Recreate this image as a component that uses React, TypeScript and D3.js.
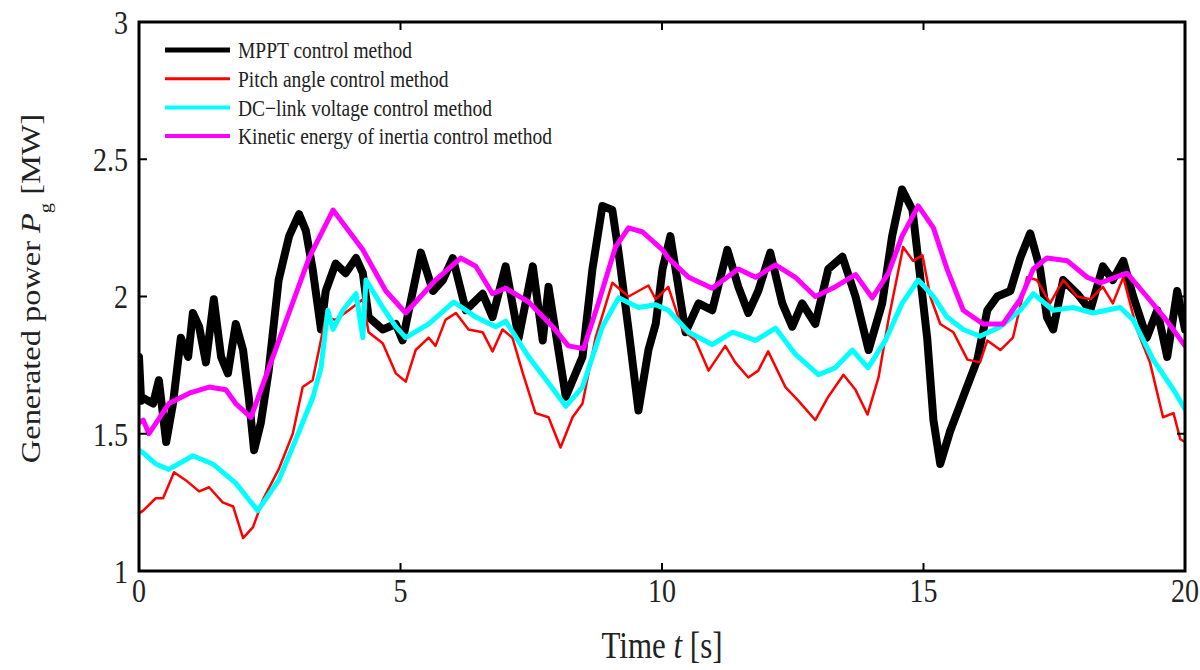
import * as d3 from 'd3';

// [time s, power MW]
const mpptData: [number, number][] = [
  [0, 1.78], [0.04, 1.62], [0.08, 1.63], [0.27, 1.61], [0.38, 1.695], [0.52, 1.47], [0.65, 1.61],
  [0.8, 1.85], [0.94, 1.78], [1.03, 1.94], [1.15, 1.89], [1.28, 1.76], [1.43, 1.99], [1.57, 1.78],
  [1.7, 1.72], [1.85, 1.9], [1.99, 1.805], [2.1, 1.63], [2.2, 1.44], [2.33, 1.54], [2.48, 1.73],
  [2.67, 2.06], [2.87, 2.22], [3.06, 2.3], [3.19, 2.24], [3.32, 2.1], [3.48, 1.88], [3.57, 2.02],
  [3.76, 2.12], [3.95, 2.085], [4.15, 2.14], [4.28, 2.085], [4.39, 1.925], [4.66, 1.88], [4.91, 1.9],
  [5.04, 1.84], [5.39, 2.16], [5.62, 2.02], [5.81, 2.06], [6.0, 2.14], [6.25, 1.95], [6.57, 2.01],
  [6.76, 1.925], [7.01, 2.11], [7.26, 1.85], [7.53, 2.11], [7.72, 1.84], [7.83, 2.035], [8.16, 1.635],
  [8.48, 1.78], [8.67, 2.1], [8.86, 2.33], [9.05, 2.315], [9.17, 2.16], [9.36, 1.88], [9.55, 1.585],
  [9.74, 1.805], [9.88, 1.9], [10.01, 2.1], [10.16, 2.22], [10.45, 1.87], [10.7, 1.975], [10.96, 1.95],
  [11.25, 2.17], [11.46, 2.035], [11.65, 1.94], [11.84, 2.02], [12.07, 2.16], [12.3, 1.975], [12.49, 1.89],
  [12.68, 1.975], [12.93, 1.9], [13.18, 2.1], [13.45, 2.145], [13.7, 2.0], [13.95, 1.805], [14.21, 1.975],
  [14.4, 2.22], [14.59, 2.39], [14.79, 2.315], [14.98, 2.0], [15.07, 1.85], [15.19, 1.55], [15.32, 1.39],
  [15.51, 1.51], [15.76, 1.635], [16.03, 1.77], [16.22, 1.95], [16.41, 2.0], [16.66, 2.02], [16.85, 2.14],
  [17.04, 2.23], [17.23, 2.1], [17.36, 1.925], [17.48, 1.88], [17.67, 2.06], [17.94, 2.01], [18.19, 1.95],
  [18.43, 2.11], [18.62, 2.06], [18.82, 2.13], [19.01, 2.0], [19.27, 1.85], [19.47, 1.95], [19.66, 1.78],
  [19.85, 2.02], [20, 1.88],
];

const pitchData: [number, number][] = [
  [0, 1.21], [0.08, 1.22], [0.32, 1.265], [0.46, 1.265], [0.67, 1.36], [0.9, 1.33], [1.15, 1.29],
  [1.34, 1.305], [1.6, 1.25], [1.8, 1.235], [1.99, 1.12], [2.18, 1.16], [2.37, 1.26], [2.67, 1.37],
  [2.94, 1.5], [3.13, 1.67], [3.32, 1.695], [3.44, 1.805], [3.57, 1.925], [3.76, 1.915], [4.01, 1.95],
  [4.28, 1.99], [4.39, 1.87], [4.66, 1.83], [4.91, 1.72], [5.1, 1.69], [5.29, 1.805], [5.54, 1.85],
  [5.67, 1.82], [5.86, 1.915], [6.06, 1.94], [6.3, 1.88], [6.57, 1.87], [6.76, 1.8], [6.95, 1.88],
  [7.14, 1.85], [7.34, 1.72], [7.58, 1.575], [7.83, 1.56], [8.06, 1.45], [8.29, 1.56], [8.48, 1.61],
  [8.73, 1.85], [9.05, 2.05], [9.36, 2.0], [9.74, 2.04], [9.88, 1.99], [10.12, 2.035], [10.39, 1.88],
  [10.64, 1.84], [10.89, 1.73], [11.21, 1.82], [11.4, 1.76], [11.65, 1.705], [11.84, 1.73], [12.03, 1.8],
  [12.36, 1.67], [12.61, 1.62], [12.93, 1.55], [13.18, 1.635], [13.47, 1.715], [13.7, 1.66], [13.93, 1.57],
  [14.14, 1.705], [14.33, 1.915], [14.61, 2.18], [14.8, 2.13], [14.98, 2.15], [15.13, 2.0], [15.32, 1.9],
  [15.57, 1.87], [15.84, 1.77], [16.08, 1.76], [16.22, 1.84], [16.47, 1.805], [16.71, 1.85], [16.98, 2.07],
  [17.17, 2.06], [17.42, 1.975], [17.67, 2.06], [17.94, 2.0], [18.19, 1.99], [18.43, 2.035], [18.62, 1.975],
  [18.82, 2.07], [19.08, 1.88], [19.33, 1.76], [19.58, 1.56], [19.78, 1.575], [19.91, 1.48], [20, 1.47],
];

const dcLinkData: [number, number][] = [
  [0, 1.44], [0.08, 1.43], [0.32, 1.39], [0.57, 1.37], [1.03, 1.42], [1.41, 1.39], [1.85, 1.32],
  [2.27, 1.22], [2.67, 1.33], [3.0, 1.48], [3.32, 1.63], [3.48, 1.74], [3.61, 1.95], [3.71, 1.88],
  [3.9, 1.95], [4.15, 2.01], [4.28, 1.85], [4.34, 2.06], [4.66, 1.96], [4.91, 1.89], [5.1, 1.85],
  [5.54, 1.9], [6.02, 1.98], [6.44, 1.925], [6.82, 1.89], [7.01, 1.91], [7.45, 1.78], [7.83, 1.685],
  [8.16, 1.6], [8.48, 1.67], [8.86, 1.89], [9.17, 1.995], [9.55, 1.96], [9.88, 1.97], [10.12, 1.95],
  [10.51, 1.87], [10.96, 1.825], [11.35, 1.87], [11.79, 1.84], [12.17, 1.885], [12.55, 1.79], [12.99, 1.715],
  [13.31, 1.74], [13.64, 1.805], [13.94, 1.74], [14.27, 1.84], [14.59, 1.975], [14.9, 2.06], [15.19, 2.0],
  [15.45, 1.925], [15.76, 1.88], [16.08, 1.855], [16.47, 1.89], [16.85, 1.95], [17.1, 2.01], [17.48, 1.95],
  [17.86, 1.96], [18.24, 1.94], [18.76, 1.96], [19.01, 1.915], [19.39, 1.77], [19.78, 1.66], [20, 1.59],
];

const kineticData: [number, number][] = [
  [0, 1.54], [0.08, 1.55], [0.19, 1.5], [0.57, 1.61], [0.99, 1.65], [1.34, 1.67], [1.66, 1.66],
  [1.85, 1.61], [2.14, 1.56], [2.81, 1.91], [3.25, 2.14], [3.71, 2.315], [4.28, 2.17], [4.72, 2.02],
  [5.1, 1.94], [5.67, 2.06], [6.15, 2.14], [6.44, 2.11], [6.76, 2.01], [7.01, 2.03], [7.45, 1.98],
  [7.91, 1.89], [8.21, 1.82], [8.5, 1.81], [8.79, 1.98], [9.11, 2.18], [9.36, 2.25], [9.63, 2.235],
  [10.01, 2.17], [10.12, 2.14], [10.51, 2.07], [10.96, 2.03], [11.46, 2.1], [11.79, 2.07], [12.17, 2.115],
  [12.55, 2.07], [12.93, 2.0], [13.31, 2.035], [13.7, 2.08], [14.02, 1.995], [14.33, 2.085], [14.59, 2.22],
  [14.9, 2.33], [15.19, 2.25], [15.45, 2.1], [15.76, 1.95], [16.14, 1.9], [16.52, 1.9], [16.85, 1.99],
  [17.1, 2.1], [17.36, 2.14], [17.75, 2.13], [18.13, 2.07], [18.38, 2.05], [18.89, 2.085], [19.27, 2.0],
  [19.66, 1.91], [20, 1.82],
];

const xTicks = [0, 5, 10, 15, 20];
const yTicks = [1, 1.5, 2, 2.5, 3];

const series = [
  { name: 'MPPT control method', data: mpptData, color: '#000000', width: 8, legendWidth: 5 },
  { name: 'Pitch angle control method', data: pitchData, color: '#ff0000', width: 2.5, legendWidth: 3 },
  { name: 'DC\u2212link voltage control method', data: dcLinkData, color: '#00ffff', width: 5, legendWidth: 4 },
  { name: 'Kinetic energy of inertia control method', data: kineticData, color: '#ff00ff', width: 5, legendWidth: 4 },
];

const FONT = '"Liberation Serif", "Times New Roman", serif';
const SY = 1.2; // the source figure is stretched vertically

export default function App() {
  const left = 139, right = 1185, top = 22, bottom = 571;
  const x = d3.scaleLinear().domain([0, 20]).range([left, right]);
  const y = d3.scaleLinear().domain([1, 3]).range([bottom, top]);
  const line = d3.line<[number, number]>().x(d => x(d[0])).y(d => y(d[1]));
  const tickLen = 8;

  return (
    <div style={{ position: 'absolute', left: 0, top: 0 }}>
      <svg width={1200} height={670} style={{ display: 'block', background: '#fff' }}>
        <defs>
          <clipPath id="plot">
            <rect x={left} y={top} width={right - left} height={bottom - top} />
          </clipPath>
        </defs>

        <g clipPath="url(#plot)">
          {series.map(s => (
            <path key={s.name} d={line(s.data) ?? ''} fill="none" stroke={s.color}
              strokeWidth={s.width} strokeLinejoin="round" strokeLinecap="round" />
          ))}
        </g>

        {/* ticks, inward on all sides */}
        {xTicks.map(t => (
          <g key={'xt' + t} stroke="#000" strokeWidth={2}>
            <line x1={x(t)} x2={x(t)} y1={bottom} y2={bottom - tickLen} />
            <line x1={x(t)} x2={x(t)} y1={top} y2={top + tickLen} />
          </g>
        ))}
        {yTicks.map(t => (
          <g key={'yt' + t} stroke="#000" strokeWidth={2}>
            <line x1={left} x2={left + tickLen} y1={y(t)} y2={y(t)} />
            <line x1={right} x2={right - tickLen} y1={y(t)} y2={y(t)} />
          </g>
        ))}
        <rect x={left} y={top} width={right - left} height={bottom - top}
          fill="none" stroke="#000" strokeWidth={3} />

        {/* tick labels */}
        {xTicks.map(t => (
          <text key={'xl' + t} transform={`translate(${x(t)},${bottom + 19}) scale(1,${SY})`}
            textAnchor="middle" dy="0.35em" fontFamily={FONT} fontSize={28} fill="#222">{t}</text>
        ))}
        {yTicks.map(t => (
          <text key={'yl' + t} transform={`translate(${left - 11},${y(t)}) scale(1,${SY})`}
            textAnchor="end" dy="0.35em" fontFamily={FONT} fontSize={28} fill="#222">{t}</text>
        ))}

        {/* axis labels */}
        <text transform={`translate(${(left + right) / 2},658) scale(1,${SY})`} textAnchor="middle"
          fontFamily={FONT} fontSize={31} fill="#222">
          Time <tspan fontStyle="italic">t</tspan> [s]
        </text>
        <text transform={`translate(40,${y(2) - 8}) scale(1,${SY}) rotate(-90)`} textAnchor="middle"
          fontFamily={FONT} fontSize={27} fill="#222">
          Generated power <tspan fontStyle="italic">P</tspan>
          <tspan fontSize={17} dy={11}>g</tspan>
          <tspan dy={-11}> [MW]</tspan>
        </text>

        {/* legend */}
        {series.map((s, i) => {
          const ly = 50 + i * 28.7;
          return (
            <g key={'lg' + s.name}>
              <line x1={165} x2={230} y1={ly} y2={ly} stroke={s.color} strokeWidth={s.legendWidth} />
              <text transform={`translate(238,${ly}) scale(1,${SY})`} dy="0.35em"
                fontFamily={FONT} fontSize={19.5} fill="#222">{s.name}</text>
            </g>
          );
        })}
      </svg>
    </div>
  );
}
